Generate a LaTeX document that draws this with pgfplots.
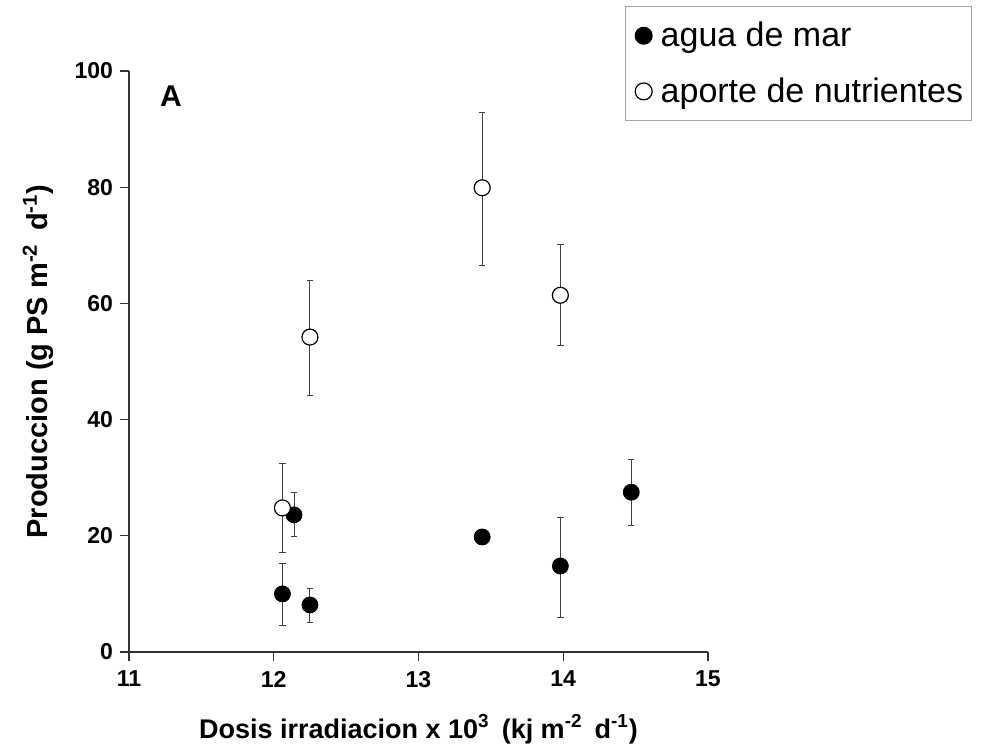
\documentclass[border=0pt]{standalone}
\usepackage{fontspec}
\setmainfont{Liberation Sans}
\usepackage{pgfplots}
\pgfplotsset{compat=1.18}

\begin{document}
\begin{tikzpicture}
\begin{axis}[
  scale only axis,
  width=289.5pt, height=290.5pt,
  xmin=11, xmax=15, ymin=0, ymax=100,
  xtick={11,12,13,14,15},
  ytick={0,20,40,60,80,100},
  axis x line*=bottom, axis y line*=left,
  axis line style={-, black!80, line width=0.6pt},
  every tick/.style={black!80, line width=0.6pt},
  tick align=outside,
  major tick length=4.5pt,
  /pgf/number format/assume math mode=true,
  tick label style={font=\bfseries\fontsize{11.5}{14}\selectfont},
  xticklabel style={yshift=-1.5pt},
  xlabel={Dosis irradiacion x 10\textsuperscript{3}\, (kj m\textsuperscript{-2}\, d\textsuperscript{-1})},
  ylabel={Produccion (g PS m\textsuperscript{-2}\, d\textsuperscript{-1})},
  xlabel style={font=\bfseries\fontsize{13.5}{16}\selectfont,
    at={(axis description cs:0.5,0)}, anchor=center, yshift=-38.5pt},
  ylabel style={font=\bfseries\fontsize{14.5}{17}\selectfont,
    at={(axis description cs:-0.157,0.5)}, anchor=center},
  clip=false,
  legend style={at={(rel axis cs:0.857,1.112)}, anchor=north west,
    draw=black!35, line width=0.5pt, inner xsep=3pt, inner ysep=5.25pt,
    font=\fontsize{17}{20}\selectfont,
    nodes={inner xsep=1pt, inner ysep=2.5pt, anchor=west},
    row sep=9pt,
    /tikz/every even column/.append style={column sep=6pt}},
  legend cell align=left,
  legend image code/.code={\path[draw=none] (0pt,0pt) (13.5pt,0pt);
    \draw[#1, mark size=4.25pt] plot coordinates {(6pt,0pt)};},
  error bars/error bar style={black!75, line width=0.5pt},
  error bars/error mark options={rotate=90, mark size=1.6pt, black!75, line width=0.5pt},
]
% agua de mar
\addplot[only marks, mark=*, mark size=4pt, mark options={fill=black, draw=black},
  error bars/.cd, y dir=both, y explicit]
  coordinates {
  (12.06,10.0) += (0,5.3) -= (0,5.5)
  (12.14,23.6) += (0,3.9) -= (0,3.8)
  (12.25,8.1)  += (0,2.9) -= (0,3.0)
  (13.44,19.8) += (0,0) -= (0,0)
  (13.98,14.8) += (0,8.4) -= (0,8.8)
  (14.47,27.5) += (0,5.7) -= (0,5.8)
};
\addlegendentry{agua de mar}
% aporte de nutrientes
\addplot[only marks, mark=*, mark size=4pt, mark options={fill=white, draw=black, line width=0.6pt},
  error bars/.cd, y dir=both, y explicit]
  coordinates {
  (12.06,24.8) += (0,7.7) -= (0,7.6)
  (12.25,54.2) += (0,9.7) -= (0,10.1)
  (13.44,79.9) += (0,13.0) -= (0,13.3)
  (13.98,61.4) += (0,8.8) -= (0,8.7)
};
\addlegendentry{aporte de nutrientes}
\node[font=\bfseries\fontsize{15}{18}\selectfont] at (axis cs:11.29,95.7) {A};
\coordinate (O) at (rel axis cs:0,0);
\end{axis}
\pgfresetboundingbox
\path[use as bounding box] ([shift={(-64.5pt,-48.5pt)}]O) rectangle ([shift={(427pt,326pt)}]O);
\end{tikzpicture}
\end{document}
